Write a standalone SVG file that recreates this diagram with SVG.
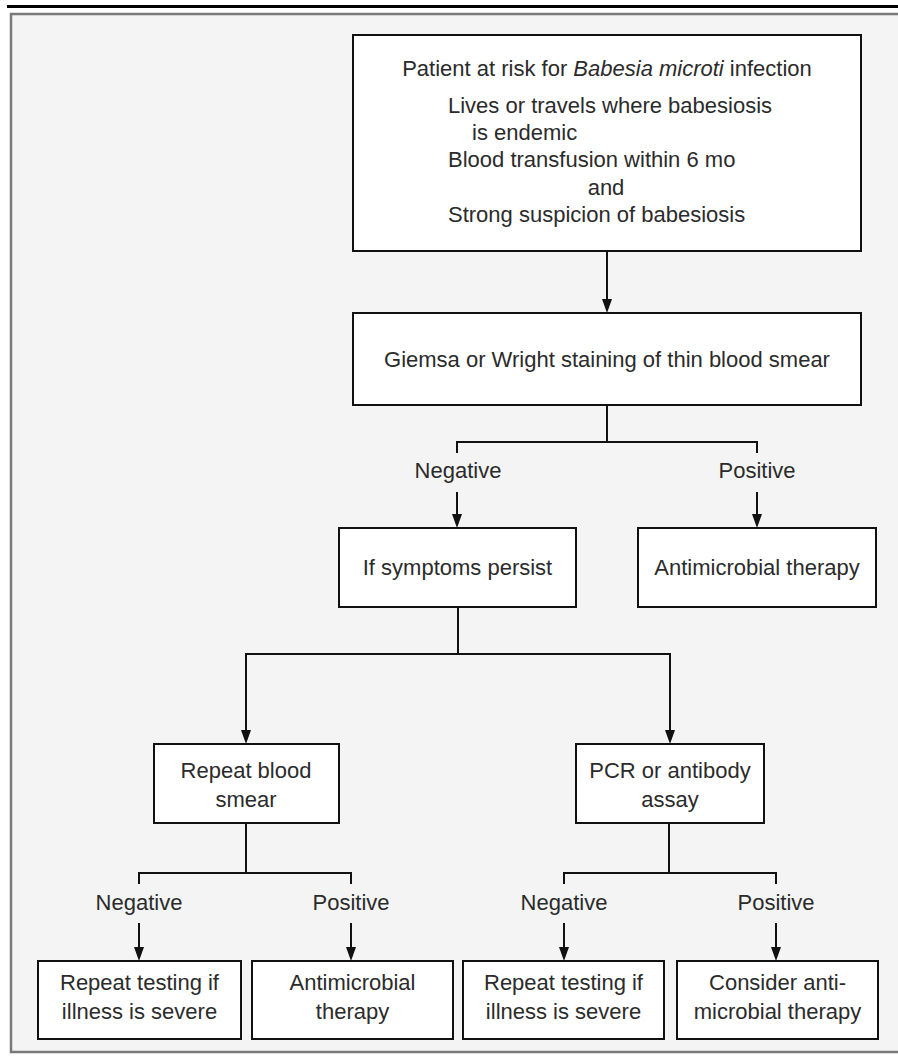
<svg xmlns="http://www.w3.org/2000/svg" width="898" height="1059" viewBox="0 0 898 1059">
<defs>
<style>
.box{fill:#ffffff;stroke:#111;stroke-width:2}
.t{font-family:"Liberation Sans",Arial,sans-serif;font-size:22px;fill:#2b2b2b}
.c{text-anchor:middle}
.ln{fill:none;stroke:#111;stroke-width:2}
.hd{fill:#111}
</style>
</defs>
<rect x="0" y="0" width="898" height="1059" fill="#ffffff"/>
<path d="M11,14 H898 V1052 H11 Z" fill="#f4f4f4" stroke="none"/>
<path d="M898,14 H11 V1052 H898" fill="none" stroke="#7a7a7a" stroke-width="2.5"/>
<line x1="7" y1="6.5" x2="898" y2="6.5" stroke="#000" stroke-width="3"/>

<g id="connectors">
<path class="ln" d="M607,251 V299"/>
<path class="ln" d="M607,405 V442 M457,453 V442 H757 V453"/>
<path class="ln" d="M457,492 V514 M757,492 V514"/>
<path class="ln" d="M458,607 V654 M246,730 V654 H670 V730"/>
<path class="ln" d="M246,823 V873 M139,884 V873 H351 V884"/>
<path class="ln" d="M669,823 V873 M564,884 V873 H776 V884"/>
<path class="ln" d="M139,923 V947 M351,923 V947 M564,923 V947 M776,923 V947"/>
<path class="hd" d="M602,299 L612,299 L607,313 Z"/>
<path class="hd" d="M452,514 L462,514 L457,528 Z"/>
<path class="hd" d="M752,514 L762,514 L757,528 Z"/>
<path class="hd" d="M241,730 L251,730 L246,744 Z"/>
<path class="hd" d="M665,730 L675,730 L670,744 Z"/>
<path class="hd" d="M134,947 L144,947 L139,961 Z"/>
<path class="hd" d="M346,947 L356,947 L351,961 Z"/>
<path class="hd" d="M559,947 L569,947 L564,961 Z"/>
<path class="hd" d="M771,947 L781,947 L776,961 Z"/>
<text class="t c" x="458" y="478">Negative</text>
<text class="t c" x="757" y="478">Positive</text>
<text class="t c" x="139" y="910">Negative</text>
<text class="t c" x="351" y="910">Positive</text>
<text class="t c" x="564" y="910">Negative</text>
<text class="t c" x="776" y="910">Positive</text>
</g>

<g id="n-risk">
<rect class="box" x="353" y="35" width="508" height="216"/>
<text class="t c" x="607" y="76">Patient at risk for <tspan font-style="italic">Babesia microti</tspan> infection</text>
<text class="t" x="448" y="113">Lives or travels where babesiosis</text>
<text class="t" x="472" y="140">is endemic</text>
<text class="t" x="448" y="167">Blood transfusion within 6 mo</text>
<text class="t c" x="606" y="195">and</text>
<text class="t" x="448" y="222">Strong suspicion of babesiosis</text>
</g>

<g id="n-smear">
<rect class="box" x="353" y="313" width="508" height="92"/>
<text class="t c" x="607" y="367">Giemsa or Wright staining of thin blood smear</text>
</g>

<g id="n-persist">
<rect class="box" x="339" y="528" width="237" height="79"/>
<text class="t c" x="457.5" y="575">If symptoms persist</text>
</g>

<g id="n-therapy1">
<rect class="box" x="638" y="528" width="238" height="79"/>
<text class="t c" x="757" y="575">Antimicrobial therapy</text>
</g>

<g id="n-repeat">
<rect class="box" x="154" y="744" width="185" height="79"/>
<text class="t c" x="246" y="778">Repeat blood</text>
<text class="t c" x="246" y="807">smear</text>
</g>

<g id="n-pcr">
<rect class="box" x="576" y="744" width="188" height="79"/>
<text class="t c" x="670" y="778">PCR or antibody</text>
<text class="t c" x="670" y="807">assay</text>
</g>

<g id="n-rt1">
<rect class="box" x="38" y="961" width="203" height="78"/>
<text class="t c" x="139.5" y="990">Repeat testing if</text>
<text class="t c" x="139.5" y="1019">illness is severe</text>
</g>

<g id="n-therapy2">
<rect class="box" x="252" y="961" width="201" height="78"/>
<text class="t c" x="352.5" y="990">Antimicrobial</text>
<text class="t c" x="352.5" y="1019">therapy</text>
</g>

<g id="n-rt2">
<rect class="box" x="463" y="961" width="201" height="78"/>
<text class="t c" x="563.5" y="990">Repeat testing if</text>
<text class="t c" x="563.5" y="1019">illness is severe</text>
</g>

<g id="n-consider">
<rect class="box" x="677" y="961" width="201" height="78"/>
<text class="t c" x="777.5" y="990">Consider anti-</text>
<text class="t c" x="777.5" y="1019">microbial therapy</text>
</g>
</svg>
